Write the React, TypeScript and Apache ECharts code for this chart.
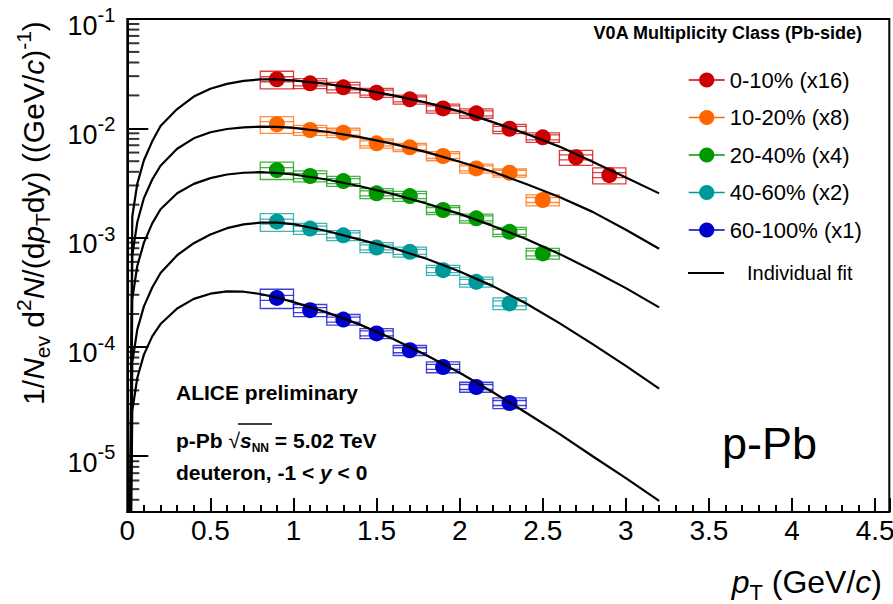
import React, { useEffect, useRef } from 'react';
import * as echarts from 'echarts';

const FONT = '"Liberation Sans", Arial, Helvetica, sans-serif';

// ---- categories ----
const classNames = ['0-10% (x16)', '10-20% (x8)', '20-40% (x4)', '40-60% (x2)', '60-100% (x1)'];
const classColors = ['#cc0000', '#ff6600', '#009900', '#009999', '#0000cc'];
const fitName = 'Individual fit';

// ---- data points: pT bin centres (GeV/c) ----
const ptBins = [0.9, 1.1, 1.3, 1.5, 1.7, 1.9, 2.1, 2.3, 2.5, 2.7, 2.9];
const binHalfWidth = 0.1;

const yield010 = [2.81e-2, 2.58e-2, 2.37e-2, 2.12e-2, 1.84e-2, 1.52e-2, 1.37e-2, 9.9e-3, 8.27e-3, 5.43e-3, 3.73e-3];
const yield1020 = [1.09e-2, 9.64e-3, 9.12e-3, 7.29e-3, 6.7e-3, 5.58e-3, 4.3e-3, 3.92e-3, 2.21e-3];
const yield2040 = [4.15e-3, 3.66e-3, 3.29e-3, 2.54e-3, 2.4e-3, 1.79e-3, 1.5e-3, 1.13e-3, 7.17e-4];
const yield4060 = [1.4e-3, 1.21e-3, 1.05e-3, 8.13e-4, 7.41e-4, 5.04e-4, 3.94e-4, 2.5e-4];
const yield60100 = [2.81e-4, 2.17e-4, 1.78e-4, 1.33e-4, 9.33e-5, 6.56e-5, 4.3e-5, 3.07e-5];

// relative systematic uncertainties (boxes)
const sys010 = [0.184, 0.105, 0.11, 0.095, 0.095, 0.095, 0.098, 0.098, 0.1, 0.157, 0.167];
const sys1020 = [0.174, 0.105, 0.098, 0.095, 0.087, 0.095, 0.095, 0.087, 0.115];
const sys2040 = [0.18, 0.115, 0.105, 0.105, 0.105, 0.095, 0.095, 0.098, 0.112];
const sys4060 = [0.184, 0.115, 0.105, 0.105, 0.105, 0.105, 0.105, 0.122];
const sys60100 = [0.2, 0.126, 0.112, 0.105, 0.105, 0.115, 0.105, 0.112];

// ---- individual fit curves ----
const fitPt = [0, 0.03, 0.06, 0.1, 0.15, 0.2, 0.3, 0.4, 0.5, 0.6, 0.7, 0.8, 0.9, 1.0, 1.2, 1.4, 1.6, 1.8, 2.0, 2.2, 2.4, 2.6, 2.8, 3.0, 3.2];
const fit010 = [1e-9, 1.56e-3, 3.1e-3, 5.1e-3, 7.6e-3, 1.05e-2, 1.5e-2, 1.95e-2, 2.3e-2, 2.55e-2, 2.72e-2, 2.8e-2, 2.8e-2, 2.75e-2, 2.55e-2, 2.28e-2, 2.0e-2, 1.72e-2, 1.43e-2, 1.14e-2, 8.9e-3, 6.8e-3, 4.95e-3, 3.55e-3, 2.54e-3];
const fit1020 = [1e-9, 6.9e-4, 1.38e-3, 2.3e-3, 3.4e-3, 4.55e-3, 6.5e-3, 8.1e-3, 9.2e-3, 9.85e-3, 1.02e-2, 1.035e-2, 1.03e-2, 1.01e-2, 9.3e-3, 8.3e-3, 7.2e-3, 6.05e-3, 4.95e-3, 4.0e-3, 3.1e-3, 2.35e-3, 1.72e-3, 1.18e-3, 7.9e-4];
const fit2040 = [1e-9, 2.75e-4, 5.5e-4, 9.0e-4, 1.35e-3, 1.82e-3, 2.55e-3, 3.1e-3, 3.5e-3, 3.78e-3, 3.92e-3, 3.97e-3, 3.9e-3, 3.78e-3, 3.4e-3, 2.95e-3, 2.5e-3, 2.05e-3, 1.65e-3, 1.28e-3, 9.7e-4, 7.1e-4, 5.0e-4, 3.45e-4, 2.3e-4];
const fit4060 = [1e-9, 7.2e-5, 1.44e-4, 2.35e-4, 3.5e-4, 4.75e-4, 6.9e-4, 8.9e-4, 1.07e-3, 1.22e-3, 1.32e-3, 1.37e-3, 1.37e-3, 1.33e-3, 1.15e-3, 9.6e-4, 8.0e-4, 6.4e-4, 4.9e-4, 3.6e-4, 2.5e-4, 1.65e-4, 1.06e-4, 6.7e-5, 4.15e-5];
const fit60100 = [1e-9, 2.6e-5, 5.2e-5, 8.5e-5, 1.25e-4, 1.62e-4, 2.25e-4, 2.75e-4, 3.07e-4, 3.22e-4, 3.2e-4, 3.05e-4, 2.83e-4, 2.57e-4, 2.07e-4, 1.6e-4, 1.18e-4, 8.4e-5, 5.8e-5, 3.85e-5, 2.5e-5, 1.6e-5, 1.0e-5, 6.3e-6, 3.9e-6];

// ---- axes ----
const X_MIN = 0;
const X_MAX = 4.585;
const X_INTERVAL = 0.5;
const Y_MIN = 3.09e-6;
const Y_MAX = 0.1;
const minorMantissas = [2, 3, 4, 5, 6, 7, 8, 9];
const minorDecades = [1e-6, 1e-5, 1e-4, 1e-3, 1e-2];

const yields = [yield010, yield1020, yield2040, yield4060, yield60100];
const sysErrs = [sys010, sys1020, sys2040, sys4060, sys60100];
const fits = [fit010, fit1020, fit2040, fit4060, fit60100];

function buildOption() {
  const series: any[] = [];

  const yMinorTicks: number[] = [];
  minorDecades.forEach((d) => minorMantissas.forEach((m) => {
    const v = m * d;
    if (v > Y_MIN && v < Y_MAX) yMinorTicks.push(v);
  }));

  // minor ticks of the log axis (2..9 x 10^n), short marks at x = 0
  series.push({
    type: 'scatter',
    name: 'yMinor',
    data: yMinorTicks.map((v) => [X_MIN, v]),
    symbol: 'rect',
    symbolSize: [12, 2],
    symbolOffset: [6, 0],
    itemStyle: { color: '#000' },
    silent: true,
    clip: false,
    z: 6,
  });

  yields.forEach((ys, k) => {
    const col = classColors[k];
    series.push({
      type: 'custom',
      name: 'sys' + k,
      coordinateSystem: 'cartesian2d',
      silent: true,
      z: 2,
      data: ys.map((y, i) => [ptBins[i], y, sysErrs[k][i]]),
      renderItem: (params: any, api: any) => {
        const x = api.value(0);
        const y = api.value(1);
        const e = api.value(2);
        const tl = api.coord([x - binHalfWidth, y * (1 + e)]);
        const br = api.coord([x + binHalfWidth, y * (1 - e)]);
        const c = api.coord([x, y]);
        const st = { stroke: col, lineWidth: 1.3, opacity: 0.75, fill: 'none' };
        return {
          type: 'group',
          children: [
            { type: 'rect', shape: { x: tl[0], y: tl[1], width: br[0] - tl[0], height: br[1] - tl[1] }, style: st },
            { type: 'line', shape: { x1: tl[0], y1: c[1] - 2.5, x2: br[0], y2: c[1] - 2.5 }, style: st },
            { type: 'line', shape: { x1: tl[0], y1: c[1] + 2.5, x2: br[0], y2: c[1] + 2.5 }, style: st },
          ],
        };
      },
    });
    series.push({
      type: 'line',
      name: classNames[k],
      data: ys.map((y, i) => [ptBins[i], y]),
      symbol: 'circle',
      symbolSize: 16,
      showSymbol: true,
      showAllSymbol: true,
      lineStyle: { width: 0, opacity: 0 },
      itemStyle: { color: col },
      silent: true,
      z: 3,
    });
    series.push({
      type: 'line',
      name: fitName,
      data: fitPt.map((p, i) => [p, fits[k][i]]),
      symbol: 'none',
      lineStyle: { color: '#000', width: 2.2 },
      itemStyle: { color: '#000' },
      silent: true,
      clip: true,
      z: 4,
    });
  });

  const titleRich = {
    a: { fontFamily: FONT, fontSize: 30, lineHeight: 40, fill: '#000', color: '#000' },
    i: { fontFamily: FONT, fontSize: 30, lineHeight: 40, fontStyle: 'italic', fill: '#000', color: '#000' },
    sub: { fontFamily: FONT, fontSize: 21, lineHeight: 21, verticalAlign: 'bottom', fill: '#000', color: '#000' },
    sup: { fontFamily: FONT, fontSize: 21, lineHeight: 21, verticalAlign: 'top', fill: '#000', color: '#000' },
  };
  const xTitleRich = {
    a: { fontFamily: FONT, fontSize: 32, lineHeight: 42, fill: '#000', color: '#000' },
    i: { fontFamily: FONT, fontSize: 32, lineHeight: 42, fontStyle: 'italic', fill: '#000', color: '#000' },
    sub: { fontFamily: FONT, fontSize: 22, lineHeight: 22, verticalAlign: 'bottom', fill: '#000', color: '#000' },
  };
  const infoRich = {
    a: { fontFamily: FONT, fontSize: 21, fontWeight: 'bold', lineHeight: 28, fill: '#000' },
    r: { fontFamily: FONT, fontSize: 21, fontWeight: 'normal', lineHeight: 28, fill: '#000' },
    s: { fontFamily: FONT, fontSize: 21, fontWeight: 'bold', fontStyle: 'italic', lineHeight: 28, fill: '#000' },
    n: { fontFamily: FONT, fontSize: 12, fontWeight: 'bold', lineHeight: 12, verticalAlign: 'bottom', fill: '#000' },
  };

  return {
    animation: false,
    backgroundColor: '#fff',
    grid: {
      left: 127.3, right: 3.7, top: 19, bottom: 92,
      show: true, borderColor: '#000', borderWidth: 2, backgroundColor: 'transparent',
      containLabel: false, outerBoundsMode: 'none',
    },
    xAxis: {
      type: 'value', min: X_MIN, max: X_MAX, interval: X_INTERVAL,
      axisLine: { show: true, onZero: false, lineStyle: { color: '#000', width: 2 } },
      axisTick: { show: true, inside: true, length: 14, lineStyle: { color: '#000', width: 2 } },
      minorTick: { show: true, splitNumber: 5, length: 7, lineStyle: { color: '#000', width: 2 } },
      splitLine: { show: false },
      minorSplitLine: { show: false },
      axisLabel: {
        margin: 4, fontSize: 28, fontFamily: FONT, color: '#000', showMaxLabel: false,
        formatter: (v: number) => {
          const r = v / X_INTERVAL;
          return Math.abs(r - Math.round(r)) < 1e-6 ? String(Number(v.toFixed(1))) : '';
        },
      },
    },
    yAxis: {
      type: 'log', logBase: 10, min: Y_MIN, max: Y_MAX,
      axisLine: { show: true, onZero: false, lineStyle: { color: '#000', width: 2 } },
      axisTick: { show: true, inside: true, length: 21, lineStyle: { color: '#000', width: 2 } },
      minorTick: { show: false },
      splitLine: { show: false },
      axisLabel: {
        margin: 12, padding: [6, 0, 0, 0], color: '#000',
        formatter: (v: number) => {
          const l = Math.log10(v);
          const e = Math.round(l);
          if (Math.abs(l - e) > 0.01) return '';
          return '{b|10}{s|' + e + '}';
        },
        rich: {
          b: { fontFamily: FONT, fontSize: 27, lineHeight: 34, verticalAlign: 'bottom', color: '#000' },
          s: { fontFamily: FONT, fontSize: 20, lineHeight: 22, verticalAlign: 'top', color: '#000' },
        },
      },
    },
    legend: [
      {
        orient: 'vertical', left: 683, top: 64, itemWidth: 36, itemHeight: 19, itemGap: 15.5,
        selectedMode: false,
        data: classNames.map((n, i) => ({
          name: n,
          lineStyle: { width: 1.5, opacity: 1, color: classColors[i] },
          itemStyle: { color: classColors[i], opacity: 1 },
        })),
        textStyle: { fontFamily: FONT, fontSize: 22, lineHeight: 22, color: '#000' },
      },
      {
        orient: 'vertical', left: 683, top: 257, itemWidth: 36, itemHeight: 2, icon: 'rect',
        selectedMode: false,
        data: [fitName],
        textStyle: { fontFamily: FONT, fontSize: 20, lineHeight: 22, color: '#000', padding: [0, 0, 0, 18] },
      },
    ],
    graphic: [
      {
        type: 'text', x: 33, y: 213, rotation: Math.PI / 2, silent: true,
        style: {
          text: '{a|1/}{i|N}{sub|ev}{a| d}{sup|2}{i|N}{a|/(d}{i|p}{sub|T}{a|dy) ((GeV/}{i|c}{a|)}{sup|-1}{a|)}',
          rich: titleRich, align: 'center', verticalAlign: 'middle', textAlign: 'center', textVerticalAlign: 'middle',
        },
      },
      {
        type: 'text', x: 882, y: 582, silent: true,
        style: {
          text: '{i|p}{sub|T}{a| (GeV/}{i|c}{a|)}',
          rich: xTitleRich, align: 'right', verticalAlign: 'middle', textAlign: 'right', textVerticalAlign: 'middle',
        },
      },
      {
        type: 'text', x: 862, y: 33, silent: true,
        style: {
          text: 'V0A Multiplicity Class (Pb-side)', fontFamily: FONT, fontSize: 18, fontWeight: 'bold', fill: '#000',
          align: 'right', verticalAlign: 'middle', textAlign: 'right', textVerticalAlign: 'middle',
        },
      },
      {
        type: 'text', x: 176, y: 392, silent: true,
        style: {
          text: 'ALICE preliminary', fontFamily: FONT, fontSize: 21, fontWeight: 'bold', fill: '#000',
          align: 'left', verticalAlign: 'middle', textAlign: 'left', textVerticalAlign: 'middle',
        },
      },
      {
        type: 'text', x: 176, y: 440, silent: true,
        style: {
          text: '{a|p-Pb }{r|√}{s|s}{n|NN}{a| = 5.02 TeV}',
          rich: infoRich, align: 'left', verticalAlign: 'middle', textAlign: 'left', textVerticalAlign: 'middle',
        },
      },
      {
        type: 'line', silent: true,
        shape: { x1: 238, y1: 424, x2: 272, y2: 424 },
        style: { stroke: '#000', lineWidth: 1.5 },
      },
      {
        type: 'text', x: 176, y: 472, silent: true,
        style: {
          text: '{a|deuteron, -1 < }{s|y}{a| < 0}',
          rich: infoRich, align: 'left', verticalAlign: 'middle', textAlign: 'left', textVerticalAlign: 'middle',
        },
      },
      {
        type: 'text', x: 722, y: 443, silent: true,
        style: {
          text: 'p-Pb', fontFamily: FONT, fontSize: 45, fill: '#000',
          align: 'left', verticalAlign: 'middle', textAlign: 'left', textVerticalAlign: 'middle',
        },
      },
    ],
    series,
  };
}

export default function App() {
  const ref = useRef<HTMLDivElement>(null);
  useEffect(() => {
    if (!ref.current) return;
    const chart = echarts.init(ref.current, undefined, { renderer: 'svg' });
    chart.setOption(buildOption() as any);
    return () => chart.dispose();
  }, []);
  return (
    <div
      ref={ref}
      style={{ position: 'fixed', left: 0, top: 0, width: 893, height: 604, background: '#fff' }}
    />
  );
}
